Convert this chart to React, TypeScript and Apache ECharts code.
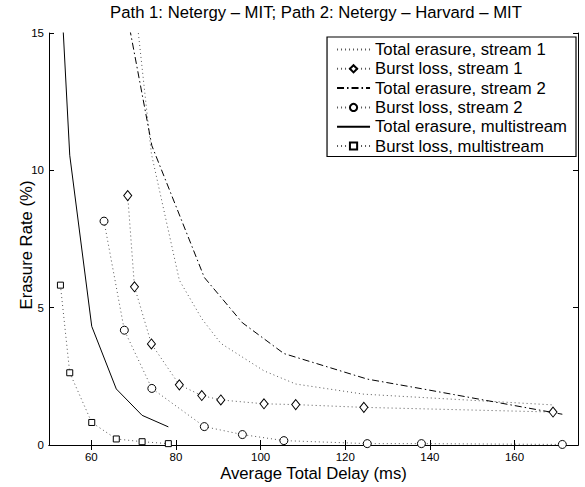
import React, { useEffect, useRef } from "react";
import * as echarts from "echarts";

// ---- data ----
const xTickValues = [60, 80, 100, 120, 140, 160];
const yTickValues = [0, 5, 10, 15];

const delayTotalS1 = [70.2, 74.2, 80.8, 86.1, 90.6, 100.8, 108.3, 124.4, 169.1];
const rateTotalS1 = [16.3, 10.6, 6.0, 4.6, 3.7, 2.7, 2.22, 1.85, 1.46];

const delayBurstS1 = [68.6, 70.2, 74.2, 80.8, 86.1, 90.6, 100.8, 108.3, 124.4, 169.1];
const rateBurstS1 = [9.08, 5.76, 3.68, 2.19, 1.8, 1.64, 1.5, 1.47, 1.37, 1.2];

const delayTotalS2 = [67.8, 74.3, 86.7, 95.7, 105.5, 125.2, 138.0, 171.3];
const rateTotalS2 = [16.2, 10.9, 6.1, 4.45, 3.33, 2.4, 2.05, 1.12];

const delayBurstS2 = [63.0, 67.8, 74.3, 86.7, 95.7, 105.5, 125.2, 138.0, 171.3];
const rateBurstS2 = [8.15, 4.18, 2.06, 0.67, 0.38, 0.16, 0.05, 0.05, 0.02];

const delayTotalMulti = [52.7, 54.9, 60.1, 65.9, 72.0, 78.2];
const rateTotalMulti = [17.0, 10.55, 4.32, 2.04, 1.08, 0.66];

const delayBurstMulti = [52.7, 54.9, 60.1, 65.9, 72.0, 78.2];
const rateBurstMulti = [5.82, 2.63, 0.82, 0.22, 0.12, 0.05];

const seriesNames = [
  "Total erasure, stream 1",
  "Burst loss, stream 1",
  "Total erasure, stream 2",
  "Burst loss, stream 2",
  "Total erasure, multistream",
  "Burst loss, multistream",
];

const FONT = "'Liberation Sans', Arial, Helvetica, sans-serif";
const BIG = 16.7;
const DOT = [1, 3];
const DASHDOT = [7, 3, 1.5, 3];

function pairs(xs: number[], ys: number[]) {
  return xs.map((x, i) => [x, ys[i]]);
}

function mk(
  name: string,
  xs: number[],
  ys: number[],
  lineType: any,
  lineColor: string,
  symbol: string,
  symbolSize: any
) {
  return {
    type: "line",
    name,
    data: pairs(xs, ys),
    clip: true,
    symbol,
    symbolSize,
    showSymbol: symbol !== "none",
    lineStyle: { type: lineType, color: lineColor, width: 1 },
    itemStyle: { color: "#fff", borderColor: "#000", borderWidth: 1 },
    emphasis: { disabled: true },
    z: 3,
  };
}

export default function App() {
  const ref = useRef<HTMLDivElement>(null);
  useEffect(() => {
    if (!ref.current) return;
    const chart = echarts.init(ref.current, null, { renderer: "svg" });
    const axisLine = { show: true, lineStyle: { color: "#000", width: 1 } };
    const tickInside = { show: true, inside: true, length: 5, lineStyle: { color: "#000", width: 1 } };
    chart.setOption({
      animation: false,
      backgroundColor: "#fff",
      title: {
        text: "Path 1: Netergy \u2013 MIT; Path 2: Netergy \u2013 Harvard \u2013 MIT",
        left: 316,
        top: 4,
        padding: 0,
        textAlign: "center",
        textStyle: { fontFamily: FONT, fontSize: BIG, fontWeight: "normal", color: "#000" },
      },
      grid: { left: 49, top: 33, width: 529, height: 417 },
      legend: {
        orient: "vertical",
        right: 9,
        top: 37,
        padding: [4, 9, 2, 9],
        itemGap: 2.3,
        itemWidth: 33,
        itemHeight: 9,
        borderColor: "#000",
        borderWidth: 1.2,
        borderRadius: 0,
        backgroundColor: "#fff",
        selectedMode: false,
        textStyle: { fontFamily: FONT, fontSize: BIG, color: "#000" },
        data: seriesNames.map((n, i) =>
          i === 0 || i === 2 || i === 4 ? { name: n, itemStyle: { opacity: 0 } } : { name: n }
        ),
      },
      xAxis: [
        {
          type: "value",
          position: "bottom",
          min: 50,
          max: 175,
          name: "Average Total Delay (ms)",
          nameLocation: "middle",
          nameGap: 20,
          nameMoveOverlap: false,
          nameTextStyle: { fontFamily: FONT, fontSize: BIG, color: "#000" },
          axisLine,
          axisTick: { ...tickInside, customValues: xTickValues },
          axisLabel: {
            customValues: xTickValues,
            fontFamily: FONT,
            fontSize: 11.5,
            color: "#000",
            margin: 6,
          },
          splitLine: { show: false },
        },
        {
          type: "value",
          position: "top",
          min: 50,
          max: 175,
          axisLine,
          axisTick: { ...tickInside, customValues: xTickValues },
          axisLabel: { show: false },
          splitLine: { show: false },
        },
      ],
      yAxis: [
        {
          type: "value",
          position: "left",
          min: 0,
          max: 15,
          interval: 5,
          name: "Erasure Rate (%)",
          nameLocation: "middle",
          nameGap: 14,
          nameMoveOverlap: false,
          nameTextStyle: { fontFamily: FONT, fontSize: BIG, color: "#000", padding: [0, 12, 0, 0] },
          axisLine,
          axisTick: { ...tickInside, customValues: yTickValues },
          axisLabel: {
            customValues: yTickValues,
            fontFamily: FONT,
            fontSize: 11.5,
            color: "#000",
            margin: 5,
          },
          splitLine: { show: false },
        },
        {
          type: "value",
          position: "right",
          min: 0,
          max: 15,
          interval: 5,
          axisLine,
          axisTick: { ...tickInside, customValues: yTickValues },
          axisLabel: { show: false },
          splitLine: { show: false },
        },
      ],
      series: [
        mk(seriesNames[0], delayTotalS1, rateTotalS1, DOT, "#555", "none", 0),
        mk(seriesNames[1], delayBurstS1, rateBurstS1, DOT, "#555", "diamond", [8, 10]),
        mk(seriesNames[2], delayTotalS2, rateTotalS2, DASHDOT, "#000", "none", 0),
        mk(seriesNames[3], delayBurstS2, rateBurstS2, DOT, "#555", "circle", 8),
        mk(seriesNames[4], delayTotalMulti, rateTotalMulti, "solid", "#000", "none", 0),
        mk(seriesNames[5], delayBurstMulti, rateBurstMulti, DOT, "#555", "rect", 6),
      ],
    });
    return () => chart.dispose();
  }, []);
  return (
    <div
      ref={ref}
      style={{ position: "absolute", left: 0, top: 0, width: 585, height: 487 }}
    />
  );
}
